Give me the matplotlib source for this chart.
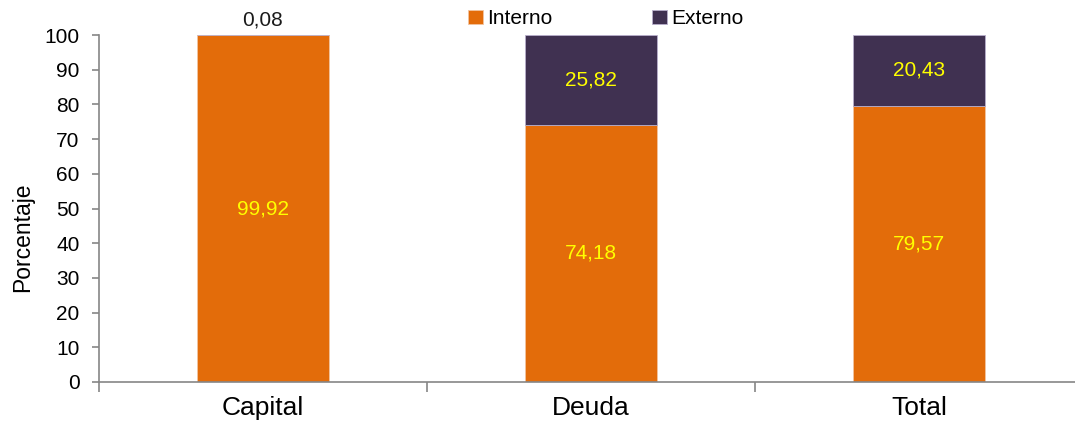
import matplotlib.pyplot as plt
import numpy as np

plt.rcParams['font.family'] = ['Liberation Sans', 'DejaVu Sans']

categorias = ['Capital', 'Deuda', 'Total']
interno = [99.92, 74.18, 79.57]
externo = [0.08, 25.82, 20.43]
etiq_interno = ['99,92', '74,18', '79,57']
etiq_externo = ['0,08', '25,82', '20,43']

naranja = '#E36C0A'
morado = '#403151'
gris = '#868686'

fig = plt.figure(figsize=(10.75, 4.28), dpi=100)
ax = fig.add_axes([0.0921, 0.1075, 0.9153, 0.8107])

x = np.arange(len(categorias))
ax.bar(x, interno, 0.4, color=naranja, edgecolor='#f2c4a0', linewidth=0.6, label='Interno')
ax.bar(x, externo, 0.4, bottom=interno, color=morado, edgecolor='#b8aecb', linewidth=0.6, label='Externo')

for i in range(len(categorias)):
    ax.text(x[i], interno[i] / 2, etiq_interno[i], ha='center', va='center',
            color='#FFFF00', fontsize=15)
    if externo[i] > 5:
        ax.text(x[i], interno[i] + externo[i] / 2, etiq_externo[i], ha='center',
                va='center', color='#FFFF00', fontsize=15)
    else:
        ax.text(x[i], 101.5, etiq_externo[i], ha='center', va='bottom',
                color='#1a1a1a', fontsize=15)

ax.set_xlim(-0.5, 2.5)
ax.set_ylim(0, 100)
ax.set_yticks(np.arange(0, 101, 10))
ax.set_xticks(x)
ax.set_xticklabels(categorias, fontsize=19)
ax.set_xticks([-0.5, 0.5, 1.5, 2.5], minor=True)
ax.tick_params(axis='x', which='major', length=0, pad=10)
ax.tick_params(axis='x', which='minor', length=7, color=gris, width=1.2)
ax.tick_params(axis='y', labelsize=15, length=5, color=gris, width=1.2, pad=9)
ax.set_ylabel('Porcentaje', fontsize=16.5)
ax.yaxis.set_label_coords(-0.066, 0.418)

for s in ['top', 'right']:
    ax.spines[s].set_visible(False)
for s in ['left', 'bottom']:
    ax.spines[s].set_color(gris)
    ax.spines[s].set_linewidth(1.2)

ax.legend(loc='upper center', bbox_to_anchor=(0.515, 1.128), ncol=2, frameon=False,
          fontsize=15, handlelength=0.7, handleheight=0.7, handletextpad=0.2,
          columnspacing=4.8)

fig.savefig('out.png', dpi=100)
